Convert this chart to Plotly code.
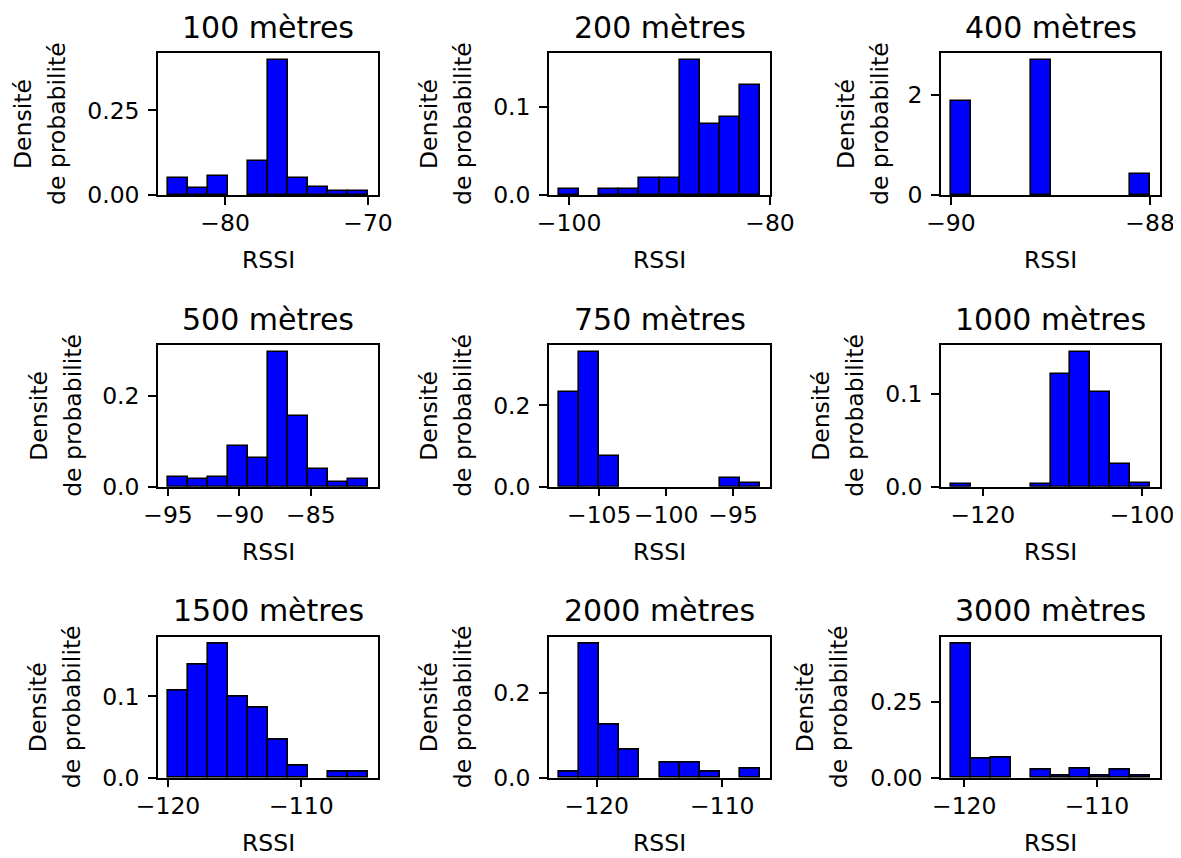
import plotly.graph_objects as go
import numpy as np

# ---------------- data ----------------
titles = ["100 mètres", "200 mètres", "400 mètres",
          "500 mètres", "750 mètres", "1000 mètres",
          "1500 mètres", "2000 mètres", "3000 mètres"]

# histogram bin range (10 bins each)
bin_lo = [-84, -101, -90, -95, -108, -124, -120, -123, -121]
bin_hi = [-70, -81, -88, -81, -93, -99, -105, -107, -106]

dens_100 = [0.050, 0.020, 0.057, 0.0, 0.102, 0.400, 0.050, 0.023, 0.012, 0.012]
dens_200 = [0.0066, 0.0, 0.0066, 0.0066, 0.0194, 0.0194, 0.153, 0.080, 0.088, 0.124]
dens_400 = [1.875, 0.0, 0.0, 0.0, 2.708, 0.0, 0.0, 0.0, 0.0, 0.417]
dens_500 = [0.022, 0.016, 0.021, 0.089, 0.063, 0.298, 0.156, 0.038, 0.0096, 0.017]
dens_750 = [0.233, 0.332, 0.075, 0.0, 0.0, 0.0, 0.0, 0.0, 0.022, 0.009]
dens_1000 = [0.0029, 0.0, 0.0, 0.0, 0.0029, 0.121, 0.145, 0.102, 0.0245, 0.0043]
dens_1500 = [0.107, 0.139, 0.165, 0.100, 0.086, 0.0465, 0.0144, 0.0, 0.0074, 0.0074]
dens_2000 = [0.0142, 0.317, 0.125, 0.067, 0.0, 0.0356, 0.0356, 0.0142, 0.0, 0.0221]
dens_3000 = [0.4425, 0.061, 0.0675, 0.0, 0.0254, 0.0066, 0.031, 0.0066, 0.0254, 0.0066]
densities = [dens_100, dens_200, dens_400, dens_500, dens_750,
             dens_1000, dens_1500, dens_2000, dens_3000]

xtick_vals = [[-80, -70], [-100, -80], [-90, -88],
              [-95, -90, -85], [-105, -100, -95], [-120, -100],
              [-120, -110], [-120, -110], [-120, -110]]
ytick_vals = [[0, 0.25], [0, 0.1], [0, 2],
              [0, 0.2], [0, 0.2], [0, 0.1],
              [0, 0.1], [0, 0.2], [0, 0.25]]
ytick_text = [["0.00", "0.25"], ["0.0", "0.1"], ["0", "2"],
              ["0.0", "0.2"], ["0.0", "0.2"], ["0.0", "0.1"],
              ["0.0", "0.1"], ["0.0", "0.2"], ["0.00", "0.25"]]

# ---------------- layout geometry (pixels in the 1181x858 page) ----------------
PAGE_W, PAGE_H = 1181, 858
OFF = 8  # default page body margin that offsets the plot div
W, H = PAGE_W - OFF, PAGE_H - OFF
col_px = [(158, 378), (549, 770), (941, 1160)]
row_px = [(53, 195), (345, 486.7), (636.7, 777.7)]
ylabel_shift = [-118, -103, -78, -102, -103, -103, -103, -103, -119]

FONT = "DejaVu Sans"
TICK_FS = 23.5
TITLE_FS = 30

fig = go.Figure()
annotations = []

for i in range(9):
    r, c = divmod(i, 3)
    idx = i + 1
    xname = "x" if idx == 1 else f"x{idx}"
    yname = "y" if idx == 1 else f"y{idx}"
    xax = "xaxis" if idx == 1 else f"xaxis{idx}"
    yax = "yaxis" if idx == 1 else f"yaxis{idx}"

    edges = np.linspace(bin_lo[i], bin_hi[i], 11)
    centers = (edges[:-1] + edges[1:]) / 2
    width = edges[1] - edges[0]
    dens = densities[i]
    dens_drawn = [d if d > 0 else None for d in dens]

    fig.add_trace(go.Bar(
        x=centers, y=dens_drawn, width=[width] * 10,
        marker=dict(color="#0000ff", line=dict(color="black", width=1.6)),
        xaxis=xname, yaxis=yname, showlegend=False,
    ))

    span = bin_hi[i] - bin_lo[i]
    xr = [bin_lo[i] - 0.05 * span, bin_hi[i] + 0.05 * span]
    yr = [0, max(dens) * 1.05]

    x0, x1 = col_px[c]
    yt, yb = row_px[r]
    common = dict(showline=True, linecolor="black", linewidth=1.5, mirror=True,
                  ticks="outside", ticklen=8, tickwidth=1.5, tickcolor="black",
                  showgrid=False, zeroline=False, automargin=False, tickangle=0,
                  tickfont=dict(family=FONT, size=TICK_FS, color="black"))
    fig.layout[xax] = dict(domain=[(x0 - OFF) / W, (x1 - OFF) / W], anchor=yname, range=xr,
                           tickvals=xtick_vals[i],
                           ticktext=[f"−{abs(v)}" for v in xtick_vals[i]],
                           ticklabelstandoff=-2, **common)
    fig.layout[yax] = dict(domain=[1 - (yb - OFF) / H, 1 - (yt - OFF) / H], anchor=xname,
                           range=yr, tickvals=ytick_vals[i], ticktext=ytick_text[i],
                           ticklabelstandoff=4, **common)

    xd = f"{xname} domain"
    yd = f"{yname} domain"
    # title
    annotations.append(dict(text=titles[i], xref=xd, yref=yd, x=0.5, y=1,
                            yshift=26, xanchor="center", yanchor="middle",
                            showarrow=False,
                            font=dict(family=FONT, size=TITLE_FS, color="black")))
    # x label
    annotations.append(dict(text="RSSI", xref=xd, yref=yd, x=0.5, y=0,
                            yshift=-65, xanchor="center", yanchor="middle",
                            showarrow=False,
                            font=dict(family=FONT, size=TICK_FS, color="black")))
    # y label (two lines)
    for txt, dx in (("Densité", -17), ("de probabilité", 17)):
        annotations.append(dict(text=txt, xref=xd, yref=yd, x=0, y=0.5,
                                xshift=ylabel_shift[i] + dx, textangle=-90,
                                xanchor="center", yanchor="middle",
                                showarrow=False,
                                font=dict(family=FONT, size=TICK_FS, color="black")))

fig.update_layout(template="none", width=W, height=H,
                  margin=dict(l=0, r=0, t=0, b=0, pad=0),
                  paper_bgcolor="white", plot_bgcolor="white",
                  bargap=0, annotations=annotations,
                  font=dict(family=FONT, color="black"))

fig.write_html("out.html")
